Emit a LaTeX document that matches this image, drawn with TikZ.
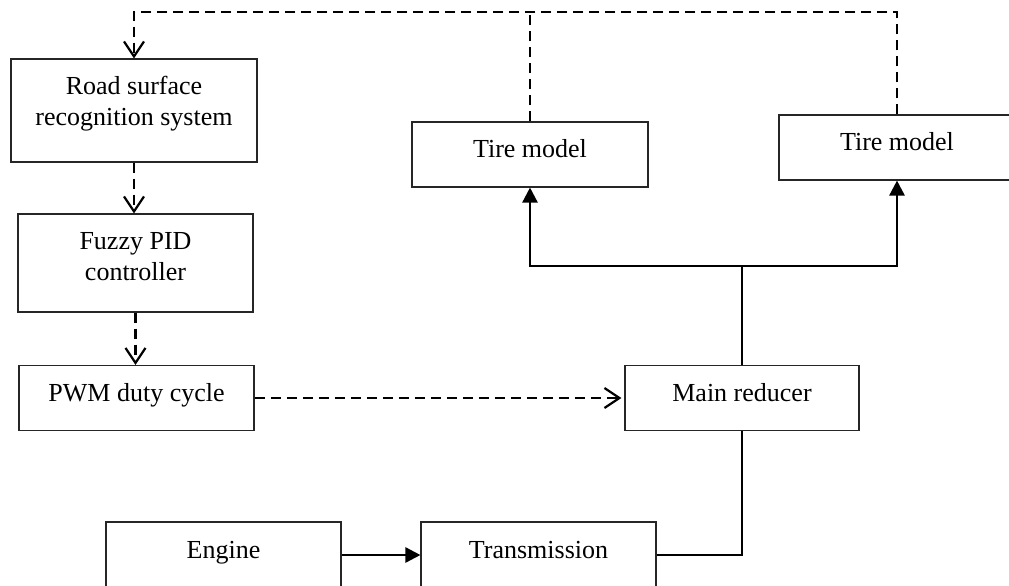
\documentclass[tikz,border=0pt]{standalone}
\usepackage{fontspec}
\setmainfont{Liberation Serif}
\usetikzlibrary{arrows.meta}
\begin{document}
\begin{tikzpicture}[x=1pt,y=-1pt,
  box/.style={draw=black!85, line width=1.1pt, inner sep=0pt},
  txt/.style={font=\fontsize{26}{30}\selectfont, inner sep=0pt, anchor=base},
  dashconn/.style={line width=2.2pt, dash pattern=on 10pt off 6pt},
  barb/.style={-{Straight Barb[length=15pt,width=20pt]}},
  thickconn/.style={line width=2.5pt},
  tri/.style={-{Triangle[length=15pt,width=15pt]}},
  thinconn/.style={line width=1.3pt}]
\useasboundingbox (0,0) rectangle (1009,586);
% boxes
\node[box, minimum width=246pt, minimum height=103pt] (road) at (134,110.5) {};
\node[box, minimum width=235pt, minimum height=98pt] (fuzzy) at (135.5,263) {};
\node[box, minimum width=235pt, minimum height=65pt] (pwm) at (136.5,398) {};
\node[box, minimum width=236pt, minimum height=65pt] (tire1) at (530,154.5) {};
\node[box, minimum width=236pt, minimum height=65pt] (tire2) at (897,147.5) {};
\node[box, minimum width=234pt, minimum height=65pt] (reducer) at (742,398) {};
\node[box, minimum width=235pt, minimum height=66pt] (engine) at (223.5,555) {};
\node[box, minimum width=235pt, minimum height=66pt] (trans) at (538.5,555) {};
% texts
\node[txt] (roadA) at (134,94) {Road surface};
\node[txt] (roadB) at (134,125) {recognition system};
\node[txt] (fuzzyA) at (135.5,249) {Fuzzy PID};
\node[txt] (fuzzyB) at (135.5,280) {controller};
\node[txt] (pwmT) at (136.5,401) {PWM duty cycle};
\node[txt] (tire1T) at (530,157) {Tire model};
\node[txt] (tire2T) at (897,150) {Tire model};
\node[txt] (reducerT) at (742,401) {Main reducer};
\node[txt] (engineT) at (223.5,558) {Engine};
\node[txt] (transT) at (538.5,558) {Transmission};
% coordinates
\coordinate (top) at (0,12);
\coordinate (split) at (742,266);
% dashed feedback
\draw[dashconn, barb] (tire2.north) -- (tire2.north |- top) -- (road.north |- top) -- (road.north);
\draw[dashconn] (tire1.north) -- (tire1.north |- top);
\draw[dashconn, barb] (road.south) -- (road.south |- fuzzy.north);
\draw[dashconn, barb] (fuzzy.south) -- (fuzzy.south |- pwm.north);
\draw[dashconn, barb, shorten >=3pt] (pwm.east) -- (pwm.east -| reducer.west);
% drive line
\draw[thinconn] (reducer.north) -- (split);
\draw[thickconn, {Triangle[length=15pt,width=15pt]}-{Triangle[length=15pt,width=15pt]}]
  (tire1.south) -- (tire1.south |- split) -- (tire2.south |- split) -- (tire2.south);
\draw[thinconn] (reducer.south) |- (trans.east);
\draw[thickconn, tri] (engine.east) -- (trans.west);
\end{tikzpicture}
\end{document}
